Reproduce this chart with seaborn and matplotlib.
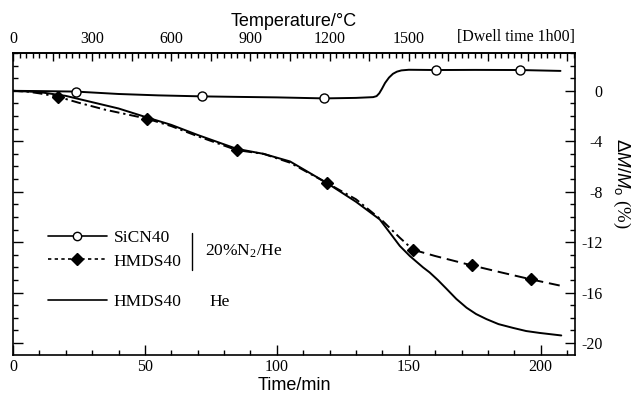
import numpy as np
import matplotlib
matplotlib.use('Agg')
import matplotlib.pyplot as plt
import seaborn as sns
from matplotlib.lines import Line2D
from matplotlib.ticker import MultipleLocator, FuncFormatter

# SiCN40, 20%N2/He  (time in min, mass change in %)
sicn_t = [0, 10, 23.9, 40, 55, 71.6, 85, 100, 118, 130, 136.5, 137.8, 138.8, 139.8, 141, 142.5, 144,
          145.5, 147.2, 150, 160.5, 175, 192, 207.5]
sicn_dm = [0, -0.02, -0.06, -0.25, -0.36, -0.44, -0.48, -0.52, -0.6, -0.56, -0.5, -0.42, -0.2, 0.15,
           0.62, 1.05, 1.35, 1.52, 1.62, 1.67, 1.65, 1.66, 1.65, 1.58]
sicn_marks = [23.9, 71.6, 118, 160.5, 192]

# HMDS40, 20%N2/He
n2_t = [0, 5, 10, 16.9, 25, 35, 50.6, 60, 70, 84.8, 95, 105, 118.9, 130, 140, 146.6, 151.6, 160,
        174, 185, 196.5, 207.2]
n2_dm = [0, -0.05, -0.2, -0.46, -0.95, -1.5, -2.2, -2.8, -3.6, -4.7, -5.0, -5.7, -7.3, -8.6, -10.3,
         -11.65, -12.6, -13.1, -13.85, -14.4, -14.96, -15.44]
n2_marks = [16.9, 50.6, 84.8, 118.9, 151.6, 174, 196.5]
n2_split = 151.6   # dash-dot before, dashed after

# HMDS40, He
he_t = [0, 10, 20, 30, 40, 50.6, 60, 70, 84.8, 95, 105, 118.9, 130, 139, 143, 146.6, 150.4, 155.4,
        157.9, 161, 164.3, 168, 171.9, 175.5, 179.4, 184, 189.5, 194.5, 199.6, 207.8]
he_dm = [0, -0.1, -0.4, -0.9, -1.4, -2.1, -2.7, -3.5, -4.6, -5.0, -5.6, -7.3, -8.8, -10.2, -11.3,
         -12.3, -13.1, -14.0, -14.4, -15.0, -15.7, -16.5, -17.2, -17.7, -18.1, -18.5, -18.8, -19.05,
         -19.2, -19.4]

temp_labels = [0, 300, 600, 900, 1200, 1500]
heat_rate = 10  # C/min

sns.set_theme(style='ticks', rc={'axes.edgecolor': 'black', 'xtick.color': 'black',
                                 'ytick.color': 'black', 'text.color': 'black',
                                 'axes.labelcolor': 'black'})
plt.rcParams['font.family'] = ['Liberation Serif', 'DejaVu Serif']
plt.rcParams['mathtext.fontset'] = 'custom'
plt.rcParams['mathtext.rm'] = 'Liberation Sans'
plt.rcParams['mathtext.it'] = 'Liberation Sans:italic'

sans = ['Liberation Sans', 'DejaVu Sans']
fig = plt.figure(figsize=(6.31, 3.96), dpi=100)
ax = fig.add_axes([13 / 631, 1 - 355 / 396, 562 / 631, 302 / 396])

lw = 1.4
sns.lineplot(x=sicn_t, y=sicn_dm, ax=ax, color='black', lw=lw, sort=False, estimator=None, legend=False)
sns.lineplot(x=he_t, y=he_dm, ax=ax, color='black', lw=lw, sort=False, estimator=None, legend=False)

n2_t_a = np.array(n2_t)
n2_dm_a = np.array(n2_dm)
first = n2_t_a <= n2_split
second = n2_t_a >= n2_split
sns.lineplot(x=n2_t_a[first], y=n2_dm_a[first], ax=ax, color='black', lw=lw, sort=False,
             estimator=None, legend=False, linestyle=(0, (5, 2, 1.2, 2)))
sns.lineplot(x=n2_t_a[second], y=n2_dm_a[second], ax=ax, color='black', lw=lw, sort=False,
             estimator=None, legend=False, linestyle=(0, (6, 3)))

sel = np.isin(n2_t_a, n2_marks)
ax.plot(n2_t_a[sel], n2_dm_a[sel], linestyle='none', marker='D', ms=6.5, color='black', zorder=3)
s_t = np.array(sicn_t)
s_dm = np.array(sicn_dm)
sel = np.isin(s_t, sicn_marks)
ax.plot(s_t[sel], s_dm[sel], linestyle='none', marker='o', ms=6.5, mfc='white', mec='black', mew=1.0, zorder=3)

ax.set_xlim(0, 213)
ax.set_ylim(-20.95, 3.0)
for sp in ax.spines.values():
    sp.set_visible(True)
    sp.set_linewidth(1.2)

ax.xaxis.set_major_locator(MultipleLocator(50))
ax.xaxis.set_minor_locator(MultipleLocator(10))
ax.yaxis.set_major_locator(MultipleLocator(4))
ax.yaxis.set_minor_locator(MultipleLocator(1))
ax.tick_params(which='both', direction='in', width=1.0, labelsize=11.5)
ax.tick_params(which='major', length=7)
ax.tick_params(which='minor', length=3.5)
ax.tick_params(axis='x', which='both', top=False, bottom=True, pad=3)
ax.tick_params(axis='y', which='both', left=True, right=True, labelleft=False, labelright=True, pad=20)
ax.yaxis.set_major_formatter(FuncFormatter(lambda v, p: f'{int(round(v))}'))
plt.setp(ax.get_yticklabels(), ha='right')

ax.set_xlabel('Time/min', family=sans, fontsize=13, labelpad=1)
ax.yaxis.set_label_position('right')
ax.set_ylabel(r'$\Delta M/M_{\rm o}$ (%)', fontsize=13.5, rotation=270, va='center')
ax.yaxis.set_label_coords(1.083, 0.57)

top = ax.secondary_xaxis('top', functions=(lambda t: t * heat_rate, lambda T: T / heat_rate))
top.xaxis.set_major_locator(MultipleLocator(150))
top.xaxis.set_minor_locator(MultipleLocator(25))
top.xaxis.set_major_formatter(FuncFormatter(
    lambda v, p: f'{int(round(v))}' if int(round(v)) in temp_labels else ''))
top.tick_params(which='both', direction='in', width=1.0, labelsize=11.5, pad=4)
top.tick_params(which='major', length=6)
top.tick_params(which='minor', length=3.5)
top.spines['top'].set_linewidth(1.2)
top.set_xlabel('Temperature/°C', family=sans, fontsize=13, labelpad=4)
ax.text(1.0, 1.028, '[Dwell time 1h00]', transform=ax.transAxes, ha='right', va='bottom', fontsize=11.5)

# legend
h1 = Line2D([], [], color='black', lw=1.2, marker='o', ms=6, mfc='white', mec='black', mew=1.0)
h2 = Line2D([], [], color='black', lw=1.2, marker='D', ms=6, linestyle=(0, (2, 2)))
h3 = Line2D([], [], color='black', lw=1.2)
lkw = dict(loc='center left', frameon=False, borderpad=0, borderaxespad=0,
           handlelength=3.4, handletextpad=0.4, labelspacing=0.4,
           prop={'family': 'Liberation Serif', 'size': 12.5})
leg1 = ax.legend(handles=[h1, h2], labels=['SiCN40', 'HMDS40'], bbox_to_anchor=(0.062, 0.348), **lkw)
ax.add_artist(leg1)
ax.legend(handles=[h3], labels=['HMDS40'], bbox_to_anchor=(0.062, 0.175), **lkw)
ax.plot([0.318, 0.318], [0.281, 0.404], transform=ax.transAxes, color='black', lw=1.0)
ax.text(0.342, 0.344, r'20%N$\mathregular{_2}$/He', transform=ax.transAxes, va='center', fontsize=12.5)
ax.text(0.350, 0.175, 'He', transform=ax.transAxes, va='center', fontsize=12.5)

fig.savefig('out.png', dpi=100)
